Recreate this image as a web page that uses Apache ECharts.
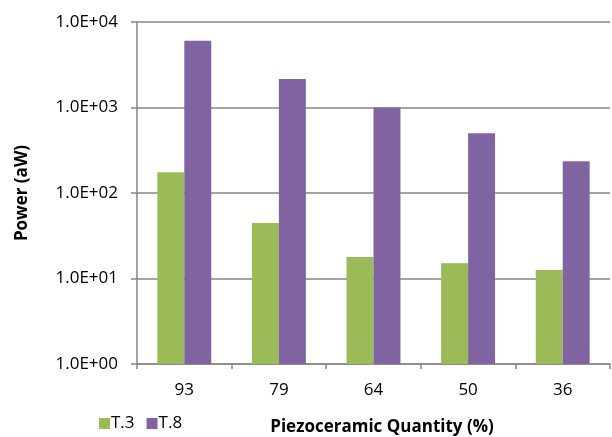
<!DOCTYPE html>
<html><head><meta charset="utf-8">
<script src="https://cdn.jsdelivr.net/npm/echarts@6/dist/echarts.min.js"></script>
<style>html,body{margin:0;padding:0;background:#fff}#c{width:612px;height:437px}</style>
</head><body><div id="c"></div>
<script>
const categories = ['93', '79', '64', '50', '36'];
const seriesNames = ['T.3', 'T.8'];
const t3Values = [175, 44.6, 17.8, 15.1, 12.6];
const t8Values = [6040, 2150, 1000, 500, 235];
const yTickLabels = ['1.0E+00', '1.0E+01', '1.0E+02', '1.0E+03', '1.0E+04'];

const FONT = 'Open Sans';
const FS = 17;
const chart = echarts.init(document.getElementById('c'), null, {renderer: 'canvas'});
chart.setOption({
  animation: false,
  backgroundColor: '#fff',
  grid: {left: 137, right: 2, top: 22, bottom: 73, containLabel: false},
  legend: {
    data: seriesNames, left: 94, top: 410, icon: 'rect', itemWidth: 11, itemHeight: 11, itemGap: 12,
    textStyle: {fontFamily: FONT, fontSize: FS, color: '#000', padding: [0, 0, 0, -4]}
  },
  xAxis: {
    type: 'category', data: categories,
    axisLine: {lineStyle: {color: '#868686', width: 1.5}},
    axisTick: {show: true, alignWithLabel: false, length: 5, lineStyle: {color: '#868686', width: 1.5}},
    axisLabel: {fontFamily: FONT, fontSize: FS, color: '#000', margin: 18}
  },
  yAxis: {
    type: 'log', logBase: 10, min: 1, max: 10000,
    axisLine: {show: true, lineStyle: {color: '#868686', width: 1.5}},
    axisTick: {show: true, length: 6, lineStyle: {color: '#868686', width: 1.5}},
    splitLine: {lineStyle: {color: '#868686', width: 1.5}},
    axisLabel: {
      fontFamily: FONT, fontSize: FS, color: '#000', margin: 19,
      formatter: v => yTickLabels[Math.round(Math.log10(v))]
    }
  },
  series: [
    {name: seriesNames[0], type: 'bar', data: t3Values, barGap: '0%', barCategoryGap: '43%',
     itemStyle: {color: '#9BBB59'}},
    {name: seriesNames[1], type: 'bar', data: t8Values, barGap: '0%', barCategoryGap: '43%',
     itemStyle: {color: '#8064A2'}}
  ],
  graphic: [
    {type: 'text', x: 382, y: 427, style: {text: 'Piezoceramic Quantity (%)', fontFamily: FONT, fontSize: FS, fontWeight: 'bold', fill: '#000', align: 'center', verticalAlign: 'middle'}},
    {type: 'text', x: 22, y: 193, rotation: Math.PI / 2, style: {text: 'Power (aW)', fontFamily: FONT, fontSize: FS, fontWeight: 'bold', fill: '#000', align: 'center', verticalAlign: 'middle'}}
  ]
});
</script></body></html>
